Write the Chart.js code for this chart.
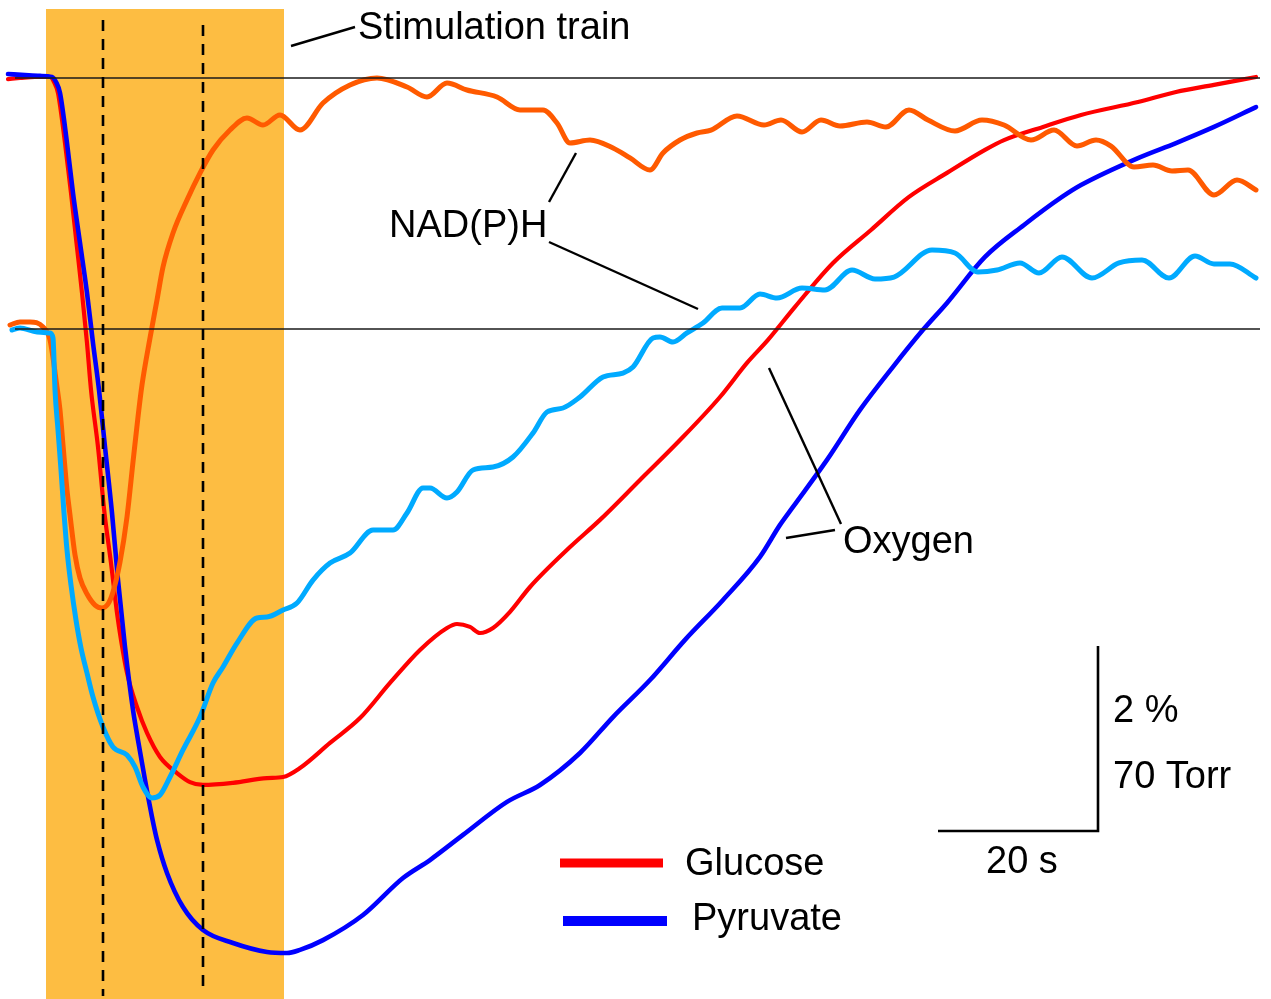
<!DOCTYPE html>
<html>
<head>
<meta charset="utf-8">
<script src="https://cdn.jsdelivr.net/npm/chart.js@4/dist/chart.umd.min.js"></script>
<style>
  html, body { margin: 0; padding: 0; background: #ffffff; }
  #wrap { width: 1271px; height: 999px; }
</style>
</head>
<body>
<div id="wrap"><canvas id="c" width="1271" height="999"></canvas></div>
<script>
// Time in seconds from the start of the stimulation train.
// Oxygen traces in Torr relative to baseline, NAD(P)H traces in % relative to baseline.

const glucoseO2Time = [-4.75, -3.25, -1.375, 0.5, 1.0, 1.5, 2.375, 3.125, 3.8125, 4.5, 5.125, 5.625, 6.5, 7.3125, 8.125, 8.875, 9.375, 10.125, 11.375, 12.625, 14.25, 16.375, 18.0, 19.625, 23.375, 27.625, 29.625, 31.75, 35.5, 39.25, 43.0, 46.75, 50.125, 51.375, 53.0, 54.25, 55.875, 58.0, 60.5, 65.5, 69.25, 74.25, 79.25, 84.25, 87.625, 90.25, 93.625, 98.375, 103.125, 107.875, 112.625, 117.375, 119.75, 124.625, 129.375, 136.5, 141.25, 146.0, 151.25];
const glucoseO2Torr = [-0.4, 0, 0.4, 0.4, -1.5, -5.7, -24.6, -43.5, -62.4, -81.3, -100.3, -118.0, -139.6, -164.6, -183.5, -202.4, -212.6, -225.1, -238.0, -247.8, -256.9, -263.0, -266.4, -267.5, -266.7, -264.9, -264.5, -261.1, -251.6, -242.2, -228.9, -216.4, -208.1, -206.6, -207.7, -210.0, -208.1, -202.0, -192.6, -177.5, -167.2, -152.1, -137.0, -120.7, -107.8, -99.1, -86.6, -70.0, -57.5, -45.0, -35.9, -27.2, -23.5, -18.5, -14.0, -9.1, -5.3, -2.6, 0.4];

const pyruvateO2Time = [-4.75, -2.625, -0.75, 0.75, 1.25, 1.75, 2.625, 3.375, 4.25, 5.125, 5.875, 6.625, 7.375, 8.25, 9.0, 9.875, 10.875, 11.5, 12.375, 13.25, 13.875, 15.125, 17.125, 19.625, 23.375, 27.625, 30.125, 31.75, 34.625, 39.625, 44.625, 48.0, 52.125, 57.625, 61.75, 66.75, 70.875, 75.5, 79.875, 84.625, 89.25, 91.75, 93.375, 97.625, 101.75, 105.875, 109.625, 112.625, 117.375, 122.25, 127.0, 129.375, 136.5, 141.25, 146.0, 151.25];
const pyruvateO2Torr = [1.5, 1.1, 0.8, 0.4, -1.5, -5.7, -24.6, -43.5, -62.4, -81.3, -100.3, -118.0, -139.6, -164.6, -189.9, -215.3, -239.1, -250.5, -265.6, -279.6, -288.3, -300.8, -313.7, -322.4, -327.3, -330.7, -331.1, -329.9, -326.2, -316.7, -302.7, -295.9, -286.4, -273.9, -267.5, -255.4, -241.8, -227.8, -212.6, -197.5, -181.2, -169.1, -162.3, -144.5, -125.6, -109.3, -95.3, -85.1, -67.7, -55.6, -45.0, -40.5, -30.3, -24.6, -18.5, -11.0];

const glucoseNadTime = [-4.5, -3.25, -2.0, -0.375, 0.5, 1.375, 1.75, 2.125, 2.625, 3.0, 3.625, 4.25, 5.125, 6.125, 7.0, 7.75, 8.375, 9.25, 10.125, 10.875, 11.5, 12.0, 13.0, 13.875, 14.625, 15.875, 17.625, 19.25, 20.875, 23.0, 25.125, 27.125, 29.25, 31.75, 34.625, 38.0, 41.375, 45.125, 47.625, 50.125, 52.625, 56.375, 59.25, 62.125, 63.875, 65.5, 68.0, 70.875, 73.0, 75.5, 77.125, 79.25, 81.375, 83.125, 86.375, 89.75, 91.875, 94.5, 96.875, 99.25, 102.625, 105.0, 107.875, 110.25, 113.625, 117.0, 119.75, 123.125, 126.0, 128.875, 131.25, 133.125, 136.0, 138.375, 140.75, 142.75, 146.0, 148.875, 151.25];
const glucoseNadPct = [0.043, 0.076, 0.076, 0.022, -0.119, -0.627, -0.876, -1.254, -1.741, -2.011, -2.443, -2.692, -2.865, -2.984, -3.016, -2.973, -2.843, -2.519, -2.032, -1.438, -0.951, -0.605, -0.097, 0.314, 0.670, 1.038, 1.395, 1.686, 1.935, 2.151, 2.281, 2.205, 2.314, 2.151, 2.443, 2.638, 2.714, 2.616, 2.508, 2.659, 2.584, 2.508, 2.368, 2.368, 2.227, 2.011, 2.043, 1.957, 1.849, 1.719, 1.903, 2.043, 2.119, 2.151, 2.303, 2.205, 2.259, 2.130, 2.259, 2.195, 2.238, 2.184, 2.368, 2.259, 2.141, 2.259, 2.205, 2.043, 2.151, 1.978, 2.043, 1.978, 1.751, 1.773, 1.708, 1.719, 1.449, 1.611, 1.503];

const pyruvateNadTime = [-4.25, -3.25, -1.125, 0.5, 0.875, 1.125, 1.5, 1.875, 2.25, 2.625, 3.125, 3.75, 4.375, 5.125, 5.875, 7.125, 8.375, 10.125, 11.125, 12.125, 13.25, 14.25, 15.5, 17.125, 19.25, 20.875, 22.125, 23.875, 26.375, 27.625, 29.625, 31.375, 33.375, 35.5, 38.0, 40.875, 43.375, 45.125, 47.125, 48.0, 50.125, 51.375, 53.375, 55.875, 58.375, 60.875, 62.625, 64.625, 66.75, 69.625, 72.125, 73.375, 75.875, 76.75, 78.375, 80.125, 82.125, 84.5, 86.75, 89.25, 91.375, 94.5, 97.375, 100.75, 103.625, 106.0, 110.75, 113.625, 116.5, 118.875, 121.75, 124.125, 127.0, 130.75, 134.125, 137.0, 140.375, 143.625, 146.0, 148.0, 151.25];
const pyruvateNadPct = [-0.011, 0.011, -0.032, -0.043, -0.097, -0.659, -1.092, -1.524, -1.989, -2.389, -2.768, -3.146, -3.449, -3.719, -3.978, -4.303, -4.519, -4.605, -4.735, -4.951, -5.070, -5.038, -4.843, -4.551, -4.195, -3.827, -3.654, -3.395, -3.124, -3.114, -3.038, -2.962, -2.714, -2.530, -2.422, -2.173, -2.173, -1.989, -1.719, -1.719, -1.827, -1.762, -1.524, -1.492, -1.384, -1.124, -0.897, -0.854, -0.735, -0.519, -0.476, -0.411, -0.097, -0.086, -0.141, -0.043, 0.065, 0.227, 0.227, 0.378, 0.335, 0.443, 0.422, 0.638, 0.541, 0.562, 0.854, 0.822, 0.616, 0.638, 0.714, 0.605, 0.778, 0.551, 0.714, 0.746, 0.551, 0.789, 0.703, 0.703, 0.551];

// Stimulation train and the two marked time points (s)
const stimStart = 0;
const stimEnd = 29.75;
const markedTimes = [7.125, 19.625];

// Scale bar sizes
const scaleBarSeconds = 20;
const scaleBarTorr = 70;

const COLORS = {
  glucose: '#ff0000',
  pyruvate: '#0000ff',
  glucoseNad: '#ff5a00',
  pyruvateNad: '#00aaff',
  stim: '#fdbd42'
};
const FONT = '38px "Liberation Sans", Arial, sans-serif';

function zip(xs, ys) { return xs.map((x, i) => ({ x: x, y: ys[i] })); }

const figurePlugin = {
  id: 'figure',
  beforeDatasetsDraw(chart) {
    const ctx = chart.ctx, x = chart.scales.x;
    ctx.save();
    ctx.fillStyle = COLORS.stim;
    const l = x.getPixelForValue(stimStart), r = x.getPixelForValue(stimEnd);
    ctx.fillRect(l, 9, r - l, 999 - 9);
    ctx.restore();
  },
  afterDatasetsDraw(chart) {
    const ctx = chart.ctx, x = chart.scales.x, yO = chart.scales.yO, yN = chart.scales.yN;
    ctx.save();

    // baselines
    ctx.strokeStyle = '#1a1a1a';
    ctx.lineWidth = 1.5;
    [yO.getPixelForValue(0), yN.getPixelForValue(0)].forEach(py => {
      ctx.beginPath(); ctx.moveTo(15, py); ctx.lineTo(1260, py); ctx.stroke();
    });

    // marked time points
    ctx.strokeStyle = '#000';
    ctx.lineWidth = 2.6;
    ctx.setLineDash([11, 8]);
    const dashTop = [20, 25], dashBottom = [996, 988];
    markedTimes.forEach((t, i) => {
      const px = x.getPixelForValue(t);
      ctx.beginPath(); ctx.moveTo(px, dashTop[i]); ctx.lineTo(px, dashBottom[i]); ctx.stroke();
    });
    ctx.setLineDash([]);

    // leader lines
    ctx.lineWidth = 2.4;
    const seg = (a, b, c, d) => { ctx.beginPath(); ctx.moveTo(a, b); ctx.lineTo(c, d); ctx.stroke(); };
    seg(291, 46, 355, 27);
    seg(549, 202, 576, 153);
    seg(549, 242, 698, 309);
    seg(841, 524, 769, 368);
    seg(835, 530, 786, 538);

    // text
    ctx.fillStyle = '#000';
    ctx.font = FONT;
    ctx.textBaseline = 'alphabetic';
    ctx.textAlign = 'left';
    ctx.fillText('Stimulation train', 358, 39);
    ctx.fillText('NAD(P)H', 389, 237);
    ctx.fillText('Oxygen', 843, 553);

    // scale bar
    const cornerT = 131.5, cornerTorr = -284.9;
    const cx = x.getPixelForValue(cornerT), cy = yO.getPixelForValue(cornerTorr);
    const lx = x.getPixelForValue(cornerT - scaleBarSeconds);
    const ty = yO.getPixelForValue(cornerTorr + scaleBarTorr);
    ctx.lineWidth = 2.6;
    ctx.beginPath(); ctx.moveTo(lx, cy); ctx.lineTo(cx, cy); ctx.lineTo(cx, ty); ctx.stroke();
    ctx.fillText('2 %', 1113, 722);
    ctx.fillText('70 Torr', 1113, 788);
    ctx.fillText('20 s', 986, 873);

    // legend
    ctx.lineCap = 'butt';
    ctx.strokeStyle = COLORS.glucose; ctx.lineWidth = 9;
    seg(560, 863, 663, 863);
    ctx.strokeStyle = COLORS.pyruvate; ctx.lineWidth = 10;
    seg(563, 921, 667, 921);
    ctx.fillText('Glucose', 685, 875);
    ctx.fillText('Pyruvate', 692, 930);

    ctx.restore();
  }
};

const lineDefaults = { pointRadius: 0, fill: false, cubicInterpolationMode: 'monotone', borderCapStyle: 'round', borderJoinStyle: 'round' };

new Chart(document.getElementById('c'), {
  type: 'line',
  data: {
    datasets: [
      Object.assign({ label: 'Glucose', data: zip(glucoseO2Time, glucoseO2Torr), borderColor: COLORS.glucose, borderWidth: 4.2, yAxisID: 'yO', order: 4 }, lineDefaults),
      Object.assign({ label: 'Pyruvate', data: zip(pyruvateO2Time, pyruvateO2Torr), borderColor: COLORS.pyruvate, borderWidth: 4.6, yAxisID: 'yO', order: 3 }, lineDefaults),
      Object.assign({ label: 'NAD(P)H glucose', data: zip(glucoseNadTime, glucoseNadPct), borderColor: COLORS.glucoseNad, borderWidth: 5, yAxisID: 'yN', order: 2 }, lineDefaults),
      Object.assign({ label: 'NAD(P)H pyruvate', data: zip(pyruvateNadTime, pyruvateNadPct), borderColor: COLORS.pyruvateNad, borderWidth: 5, yAxisID: 'yN', order: 1 }, lineDefaults)
    ]
  },
  options: {
    responsive: false,
    animation: false,
    devicePixelRatio: 1,
    layout: { padding: 0 },
    plugins: { legend: { display: false }, tooltip: { enabled: false } },
    scales: {
      x: { type: 'linear', min: -5.75, max: 153.125, display: false },
      yO: { type: 'linear', position: 'left', min: -348.49, max: 29.514, display: false },
      yN: { type: 'linear', position: 'right', min: -7.2432, max: 3.5568, display: false }
    }
  },
  plugins: [figurePlugin]
});
</script>
</body>
</html>
